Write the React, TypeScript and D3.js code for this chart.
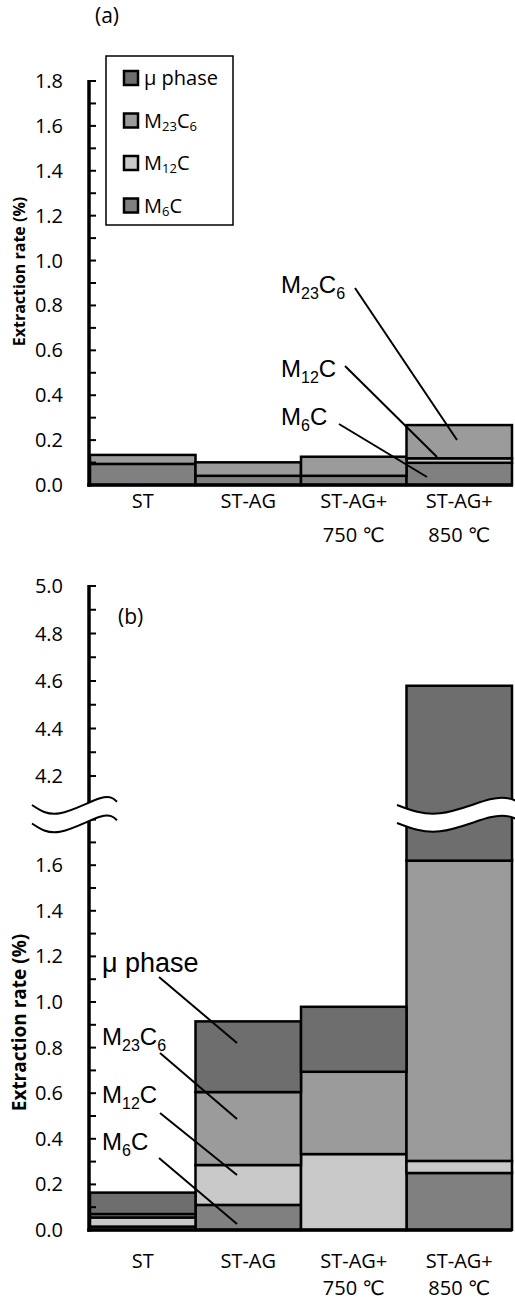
import React from "react";
import * as d3 from "d3";

// Categories (two-line labels)
const catLine1 = ["ST", "ST-AG", "ST-AG+", "ST-AG+"];
const catLine2 = ["", "", "750 ℃", "850 ℃"];

// Phase keys, stacked bottom to top
const phaseKeys = ["M6C", "M12C", "M23C6", "mu"];
const phaseColors: Record<string, string> = {
  M6C: "#808080",
  M12C: "#c9c9c9",
  M23C6: "#9b9b9b",
  mu: "#6e6e6e",
};

// Panel (a) extraction rates (%)
const aM6C = [0.094, 0.041, 0.041, 0.099];
const aM12C = [0, 0, 0, 0.02];
const aM23C6 = [0.04, 0.06, 0.085, 0.148];
const aMu = [0, 0, 0, 0];

// Panel (b) extraction rates (%)
const bM6C = [0.015, 0.11, 0, 0.25];
const bM12C = [0.04, 0.175, 0.333, 0.053];
const bM23C6 = [0.015, 0.32, 0.361, 1.317];
const bMu = [0.094, 0.31, 0.285, 2.96];

// Axis ticks
const aTicks = d3.range(0, 19).map((i) => i / 10);
const aTickLabels = ["0.0", "0.2", "0.4", "0.6", "0.8", "1.0", "1.2", "1.4", "1.6", "1.8"];
const bLowTicks = d3.range(0, 19).map((i) => i / 10);
const bLowTickLabels = ["0.0", "0.2", "0.4", "0.6", "0.8", "1.0", "1.2", "1.4", "1.6"];
const bHighTicks = d3.range(42, 51).map((i) => i / 10);
const bHighTickLabels = ["4.2", "4.4", "4.6", "4.8", "5.0"];

const legendItems = [
  { key: "mu", label: ["μ phase"] },
  { key: "M23C6", label: ["M", "23", "C", "6"] },
  { key: "M12C", label: ["M", "12", "C"] },
  { key: "M6C", label: ["M", "6", "C"] },
];

const UI_FONT = "'Open Sans', 'DejaVu Sans', sans-serif";
const ANNO_FONT = "'Liberation Sans', Arial, sans-serif";

function rows(m6: number[], m12: number[], m23: number[], mu: number[]) {
  return catLine1.map((_, i) => ({ M6C: m6[i], M12C: m12[i], M23C6: m23[i], mu: mu[i] }));
}

const stack = d3.stack<any>().keys(phaseKeys);

// Chemical formula with subscripts: parts alternate normal / subscript
function Formula({ x, y, parts, size, subSize, font, drop }: any) {
  return (
    <text x={x} y={y} fontFamily={font} fontSize={size} fill="#000">
      {parts.map((p: string, i: number) => {
        const isSub = i % 2 === 1;
        const dy = i === 0 ? 0 : isSub ? drop : -drop;
        return (
          <tspan key={i} dy={dy} fontSize={isSub ? subSize : size}>
            {p}
          </tspan>
        );
      })}
    </text>
  );
}

const x = d3.scaleBand<number>().domain(d3.range(4)).range([90, 512]).padding(0);
const AXIS_X = 89;

function Bars({ data, y }: { data: any[]; y: (v: number) => number }) {
  const series = stack(data);
  return (
    <g>
      {series.map((s) =>
        s.map((d, i) => {
          if (d[1] - d[0] <= 0) return null;
          const y0 = y(d[0]);
          const y1 = y(d[1]);
          return (
            <rect
              key={s.key + i}
              x={x(i)}
              y={y1}
              width={x.bandwidth()}
              height={y0 - y1}
              fill={phaseColors[s.key]}
              stroke="#000"
              strokeWidth={2.5}
            />
          );
        })
      )}
    </g>
  );
}

function CategoryLabels({ y1, y2 }: { y1: number; y2: number }) {
  return (
    <g fontFamily={UI_FONT} fontSize={20} textAnchor="middle" fill="#000">
      {catLine1.map((c, i) => (
        <g key={i}>
          <text x={x(i)! + x.bandwidth() / 2} y={y1}>
            {c}
          </text>
          {catLine2[i] && (
            <text x={x(i)! + x.bandwidth() / 2} y={y2}>
              {catLine2[i]}
            </text>
          )}
        </g>
      ))}
    </g>
  );
}

function Ticks({ ticks, y }: { ticks: number[]; y: (v: number) => number }) {
  return (
    <g stroke="#000" strokeWidth={2}>
      {ticks.map((t) => (
        <line key={t} x1={AXIS_X} x2={AXIS_X + 7} y1={y(t)} y2={y(t)} />
      ))}
    </g>
  );
}

function TickLabels({ labels, y }: { labels: string[]; y: (v: number) => number }) {
  return (
    <g fontFamily={UI_FONT} fontSize={20} textAnchor="end" fill="#000">
      {labels.map((l) => (
        <text key={l} x={63} y={y(+l) + 7}>
          {l}
        </text>
      ))}
    </g>
  );
}

function Leader({ x1, y1, x2, y2 }: any) {
  return <line x1={x1} y1={y1} x2={x2} y2={y2} stroke="#000" strokeWidth={2} />;
}

// Wavy axis-break band
const waveLine = d3.line<[number, number]>().curve(d3.curveNatural);
function BreakBand({ pts, gap }: { pts: [number, number][]; gap: number }) {
  const lower = pts.map(([px, py]) => [px, py + gap] as [number, number]);
  const upperD = waveLine(pts)!;
  const lowerD = waveLine(lower)!;
  const fillD =
    upperD + "L" + lower[lower.length - 1].join(",") + waveLine([...lower].reverse())!.replace(/^M/, "L") + "Z";
  return (
    <g>
      <path d={fillD} fill="#fff" stroke="none" />
      <path d={upperD} fill="none" stroke="#000" strokeWidth={2} />
      <path d={lowerD} fill="none" stroke="#000" strokeWidth={2} />
    </g>
  );
}

export default function App() {
  // Panel (a)
  const yA = d3.scaleLinear().domain([0, 1.8]).range([485, 81]);
  const dataA = rows(aM6C, aM12C, aM23C6, aMu);

  // Panel (b): broken axis with two linear segments
  const yLow = d3.scaleLinear().domain([0, 1.6]).range([1230, 865.2]);
  const yHigh = d3.scaleLinear().domain([4.2, 5.0]).range([776, 586]);
  const yB = (v: number) => (v <= 3 ? yLow(v) : yHigh(v));
  const dataB = rows(bM6C, bM12C, bM23C6, bMu);

  return (
    <div style={{ position: "absolute", left: 0, top: 0 }}>
      <svg width={515} height={1302} style={{ display: "block", background: "#fff" }}>
        {/* ---------- Panel (a) ---------- */}
        <text x={95} y={23} fontFamily={UI_FONT} fontSize={21}>
          (a)
        </text>
        <text
          transform={`translate(25,${271.5}) rotate(-90)`}
          textAnchor="middle"
          fontFamily={UI_FONT}
          fontWeight={700}
          fontSize={16}
        >
          Extraction rate (%)
        </text>
        <Bars data={dataA} y={yA} />
        <Ticks ticks={aTicks} y={yA} />
        <TickLabels labels={aTickLabels} y={yA} />
        <line x1={AXIS_X} x2={AXIS_X} y1={yA(1.8) - 1} y2={yA(0) + 1.8} stroke="#000" strokeWidth={3.5} />
        <line x1={AXIS_X - 1.7} x2={513} y1={yA(0)} y2={yA(0)} stroke="#000" strokeWidth={3.5} />
        <CategoryLabels y1={508} y2={542} />

        {/* legend */}
        <rect x={106} y={56} width={127} height={169} fill="#fff" stroke="#000" strokeWidth={1.5} />
        {legendItems.map((it, i) => {
          const cy = 78 + i * 42.5;
          return (
            <g key={it.key}>
              <rect x={124} y={cy - 7} width={14} height={14} fill={phaseColors[it.key]} stroke="#000" strokeWidth={2.5} />
              <Formula x={144} y={cy + 7} parts={it.label} size={20} subSize={13} font={UI_FONT} drop={3} />
            </g>
          );
        })}

        {/* annotations */}
        <Formula x={281} y={293} parts={["M", "23", "C", "6"]} size={24} subSize={16} font={ANNO_FONT} drop={6} />
        <Leader x1={355} y1={288} x2={457} y2={440} />
        <Formula x={281} y={377} parts={["M", "12", "C"]} size={24} subSize={16} font={ANNO_FONT} drop={6} />
        <Leader x1={345} y1={366} x2={437} y2={457} />
        <Formula x={281} y={425} parts={["M", "6", "C"]} size={24} subSize={16} font={ANNO_FONT} drop={6} />
        <Leader x1={339} y1={424} x2={427} y2={477} />

        {/* ---------- Panel (b) ---------- */}
        <text x={118} y={624} fontFamily={UI_FONT} fontSize={21}>
          (b)
        </text>
        <text
          transform={`translate(26,${1022.5}) rotate(-90)`}
          textAnchor="middle"
          fontFamily={UI_FONT}
          fontWeight={700}
          fontSize={19}
        >
          Extraction rate (%)
        </text>
        <Bars data={dataB} y={yB} />
        <Ticks ticks={bHighTicks} y={yHigh} />
        <Ticks ticks={bLowTicks} y={yLow} />
        <TickLabels labels={bHighTickLabels} y={yHigh} />
        <TickLabels labels={bLowTickLabels} y={yLow} />
        <line x1={AXIS_X} x2={AXIS_X} y1={yHigh(5.0) - 1} y2={812} stroke="#000" strokeWidth={3.5} />
        <line x1={AXIS_X} x2={AXIS_X} y1={812} y2={yLow(0) + 1.8} stroke="#000" strokeWidth={3.5} />
        <line x1={AXIS_X - 1.7} x2={512} y1={yLow(0)} y2={yLow(0)} stroke="#000" strokeWidth={3.5} />

        {/* axis break marks */}
        <BreakBand pts={[[32, 805], [60, 813.3], [100, 798.3], [117, 801.7]]} gap={18.5} />
        <BreakBand pts={[[397, 805], [440, 813.3], [490, 799.3], [516, 800.7]]} gap={18} />

        <CategoryLabels y1={1268} y2={1295} />

        {/* annotations */}
        <text x={102} y={972} fontFamily={ANNO_FONT} fontSize={27}>
          μ phase
        </text>
        <Leader x1={159} y1={977} x2={237} y2={1043} />
        <Formula x={102} y={1045} parts={["M", "23", "C", "6"]} size={24} subSize={16} font={ANNO_FONT} drop={6} />
        <Leader x1={160} y1={1053} x2={237} y2={1119} />
        <Formula x={102} y={1103} parts={["M", "12", "C"]} size={24} subSize={16} font={ANNO_FONT} drop={6} />
        <Leader x1={160} y1={1113} x2={237} y2={1175} />
        <Formula x={102} y={1150} parts={["M", "6", "C"]} size={24} subSize={16} font={ANNO_FONT} drop={6} />
        <Leader x1={159} y1={1158} x2={237} y2={1224} />
      </svg>
    </div>
  );
}
